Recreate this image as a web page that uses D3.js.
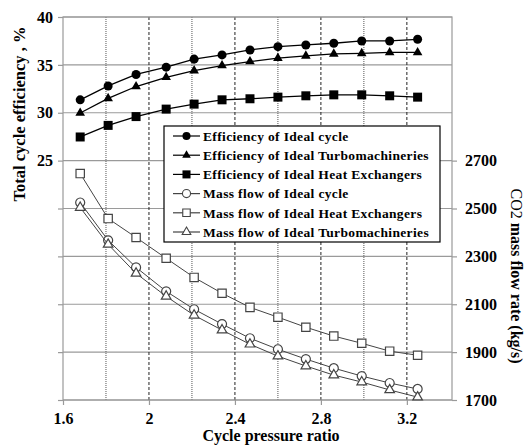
<!DOCTYPE html>
<html>
<head>
<meta charset="utf-8">
<script src="https://cdn.jsdelivr.net/npm/d3@7"></script>
<style>
    body { margin: 0; background: #fff; }
    svg text { font-family: "Liberation Serif", "Times New Roman", serif; font-weight: bold; }
</style>
</head>
<body>
<div id="chart"></div>
<script>
// values
var pressureRatio = [1.68, 1.81, 1.94, 2.08, 2.21, 2.34, 2.47, 2.60, 2.73, 2.86, 2.99, 3.12, 3.25];

var effIdealCycle = [31.35, 32.8, 34.0, 34.76, 35.6, 36.04, 36.56, 36.9, 37.08, 37.26, 37.5, 37.5, 37.67];
var effIdealTurbo = [29.97, 31.5, 32.74, 33.7, 34.4, 34.93, 35.35, 35.7, 35.94, 36.15, 36.2, 36.3, 36.3];
var effIdealHX = [27.47, 28.68, 29.6, 30.38, 30.9, 31.35, 31.46, 31.63, 31.77, 31.87, 31.87, 31.77, 31.63];

var massIdealCycle = [2525, 2367, 2254, 2154, 2079, 2017, 1958, 1912, 1871, 1833, 1800, 1771, 1746];
var massIdealHX = [2646, 2458, 2379, 2292, 2212, 2146, 2087, 2046, 2004, 1967, 1937, 1904, 1887];
var massIdealTurbo = [2504, 2350, 2229, 2133, 2054, 1992, 1933, 1883, 1842, 1804, 1775, 1742, 1712];

var xTicks = [1.6, 2, 2.4, 2.8, 3.2];
var xMinorGrid = [1.8, 2.2, 2.6, 3.0];
var leftTicks = [25, 30, 35, 40];
var rightTicks = [1700, 1900, 2100, 2300, 2500, 2700];

var legendLabels = [
    "Efficiency of Ideal cycle",
    "Efficiency of Ideal Turbomachineries",
    "Efficiency of Ideal Heat Exchangers",
    "Mass flow of Ideal cycle",
    "Mass flow of Ideal Heat Exchangers",
    "Mass flow of Ideal Turbomachineries"
];

var margin = {top: 17, right: 73, bottom: 46, left: 63},
    fullWidth = 525,
    fullHeight = 446,
    width = fullWidth - margin.left - margin.right,
    height = fullHeight - margin.top - margin.bottom;

var xScale = d3.scaleLinear().domain([1.6, 3.41]).range([0, width]);
var yLeft = d3.scaleLinear().domain([0, 40]).range([height, 0]);
var yRight = d3.scaleLinear().domain([1700, 3300]).range([height, 0]);

var series = [
    {values: effIdealCycle, axis: "left", shape: d3.symbolCircle, size: 64, filled: true},
    {values: effIdealTurbo, axis: "left", shape: d3.symbolTriangle, size: 40, filled: true},
    {values: effIdealHX, axis: "left", shape: d3.symbolSquare, size: 81, filled: true},
    {values: massIdealCycle, axis: "right", shape: d3.symbolCircle, size: 64, filled: false},
    {values: massIdealHX, axis: "right", shape: d3.symbolSquare, size: 70, filled: false},
    {values: massIdealTurbo, axis: "right", shape: d3.symbolTriangle, size: 40, filled: false}
];

var svg = d3.select("#chart")
    .append("svg")
    .attr("width", fullWidth)
    .attr("height", fullHeight);

var g = svg.append("g")
    .attr("transform", "translate(" + margin.left + "," + margin.top + ")");

// horizontal grid
g.append("g")
    .selectAll("line")
    .data(d3.range(0, 41, 5))
    .enter()
    .append("line")
    .attr("x1", 0)
    .attr("x2", width)
    .attr("y1", function (d) { return yLeft(d); })
    .attr("y2", function (d) { return yLeft(d); })
    .attr("stroke", "#9a9a9a")
    .attr("stroke-width", 1.2);

// vertical grid: dashed on majors, dotted on minors
g.append("g")
    .selectAll("line")
    .data(xTicks.slice(1))
    .enter()
    .append("line")
    .attr("x1", function (d) { return xScale(d); })
    .attr("x2", function (d) { return xScale(d); })
    .attr("y1", 0)
    .attr("y2", height)
    .attr("stroke", "#222")
    .attr("stroke-dasharray", "3,2");

g.append("g")
    .selectAll("line")
    .data(xMinorGrid)
    .enter()
    .append("line")
    .attr("x1", function (d) { return xScale(d); })
    .attr("x2", function (d) { return xScale(d); })
    .attr("y1", 0)
    .attr("y2", height)
    .attr("stroke", "#555")
    .attr("stroke-dasharray", "1,1");

// frame
g.append("rect")
    .attr("x", 0)
    .attr("y", 0)
    .attr("width", width)
    .attr("height", height)
    .attr("fill", "none")
    .attr("stroke", "#9a9a9a")
    .attr("stroke-width", 1.2);

// axes
var xAxis = d3.axisBottom(xScale).tickValues(xTicks).tickSize(5).tickPadding(8)
    .tickFormat(d3.format("~g"));
var leftAxis = d3.axisLeft(yLeft).tickValues(d3.range(0, 41, 5)).tickSize(5).tickPadding(5)
    .tickFormat(function (d) { return leftTicks.indexOf(d) >= 0 ? d : ""; });
var rightAxis = d3.axisRight(yRight).tickValues(rightTicks).tickSize(5).tickPadding(8)
    .tickFormat(d3.format("d"));

function styleAxis(sel) {
    sel.select(".domain").remove();
    sel.selectAll(".tick line").attr("stroke", "#9a9a9a").attr("stroke-width", 1.2);
    sel.selectAll(".tick text").attr("fill", "#000").style("font-size", "16px")
        .style("font-family", "'Liberation Serif', serif").style("font-weight", "bold");
}

g.append("g")
    .attr("transform", "translate(0," + height + ")")
    .call(xAxis)
    .call(styleAxis);

g.append("g")
    .call(leftAxis)
    .call(styleAxis);

g.append("g")
    .attr("transform", "translate(" + width + ",0)")
    .call(rightAxis)
    .call(styleAxis);

// series
function yFor(s) {
    return s.axis === "left" ? yLeft : yRight;
}

series.forEach(function (s) {
    var y = yFor(s);
    var colour = s.filled ? "#000" : "#444";
    var line = d3.line()
        .x(function (d, i) { return xScale(pressureRatio[i]); })
        .y(function (d) { return y(d); });

    g.append("path")
        .datum(s.values)
        .attr("d", line)
        .attr("fill", "none")
        .attr("stroke", colour)
        .attr("stroke-width", s.filled ? 1.3 : 1);

    g.append("g")
        .selectAll("path")
        .data(s.values)
        .enter()
        .append("path")
        .attr("d", d3.symbol().type(s.shape).size(s.size))
        .attr("transform", function (d, i) {
            return "translate(" + xScale(pressureRatio[i]) + "," + y(d) + ")";
        })
        .attr("fill", s.filled ? "#000" : "#fff")
        .attr("stroke", colour)
        .attr("stroke-width", s.filled ? 0 : 1.2);
});

// legend
var legend = svg.append("g")
    .attr("transform", "translate(164,126)");

legend.append("rect")
    .attr("width", 276)
    .attr("height", 116)
    .attr("fill", "#fff")
    .attr("stroke", "#000")
    .attr("stroke-width", 1.2);

var rows = legend.selectAll(".row")
    .data(series)
    .enter()
    .append("g")
    .attr("class", "row")
    .attr("transform", function (d, i) { return "translate(0," + (10 + i * 19.2) + ")"; });

rows.append("line")
    .attr("x1", 9)
    .attr("x2", 36)
    .attr("stroke", function (d) { return d.filled ? "#000" : "#444"; })
    .attr("stroke-width", 1.2);

rows.append("path")
    .attr("d", function (d) { return d3.symbol().type(d.shape).size(d.size * 0.8)(); })
    .attr("transform", "translate(22.5,0)")
    .attr("fill", function (d) { return d.filled ? "#000" : "#fff"; })
    .attr("stroke", function (d) { return d.filled ? "none" : "#444"; })
    .attr("stroke-width", 1.1);

rows.append("text")
    .attr("x", 39)
    .attr("dy", "0.35em")
    .style("font-size", "13.5px")
    .style("letter-spacing", "0.35px")
    .text(function (d, i) { return legendLabels[i]; });

// axis titles
svg.append("text")
    .attr("transform", "translate(25,114) rotate(-90)")
    .attr("text-anchor", "middle")
    .style("font-size", "16.5px")
    .text("Total cycle efficiency , %");

var rightTitle = svg.append("text")
    .attr("transform", "translate(511,276) rotate(90)")
    .attr("text-anchor", "middle")
    .style("font-size", "16px");
rightTitle.append("tspan").style("font-weight", "normal").text("CO2 ");
rightTitle.append("tspan").text("mass flow rate (kg/s)");

svg.append("text")
    .attr("x", 271)
    .attr("y", 441)
    .attr("text-anchor", "middle")
    .style("font-size", "16px")
    .text("Cycle pressure ratio");
</script>
</body>
</html>
